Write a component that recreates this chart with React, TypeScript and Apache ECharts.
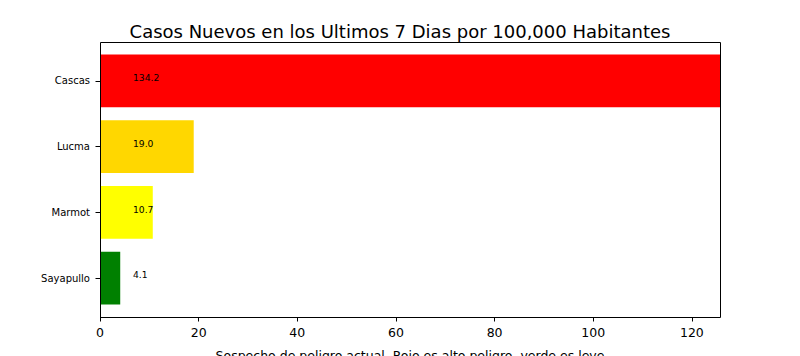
import React, { useEffect, useRef } from "react";
import * as echarts from "echarts";

const categories = ["Cascas", "Lucma", "Marmot", "Sayapullo"];
const values = [134.2, 19.0, 10.7, 4.1];
const barColors = ["#ff0000", "#ffd700", "#ffff00", "#008000"];
const xTicks = [0, 20, 40, 60, 80, 100, 120];
const xMax = 125.7;
const titleText = "Casos Nuevos en los Ultimos 7 Dias por 100,000 Habitantes";
const xName = "Sospecho de peligro actual. Rojo es alto peligro, verde es leve";

const FONT = "DejaVu Sans";

export default function App() {
  const ref = useRef<HTMLDivElement>(null);
  useEffect(() => {
    document.body.style.margin = "0";
    const chart = echarts.init(ref.current!, null, { renderer: "svg" });
    chart.setOption({
      animation: false,
      backgroundColor: "#ffffff",
      textStyle: { fontFamily: FONT },
      title: {
        text: titleText,
        left: "center",
        top: 17,
        textStyle: { fontFamily: FONT, fontSize: 18, fontWeight: "normal", color: "#000" },
      },
      grid: {
        left: 100,
        right: 80,
        top: 48,
        bottom: 45,
        containLabel: false,
        outerBoundsMode: "none",
      },
      xAxis: {
        type: "value",
        min: 0,
        max: xMax,
        interval: 20,
        offset: 6,
        splitLine: { show: false },
        axisLine: { show: false },
        axisTick: { show: true, customValues: xTicks, length: 4.5, lineStyle: { color: "#000" } },
        axisLabel: { customValues: xTicks, fontSize: 12.5, color: "#000", margin: 9, fontFamily: FONT },
        name: xName,
        nameLocation: "middle",
        nameGap: 32,
        nameTextStyle: { fontSize: 12.5, color: "#000", fontFamily: FONT },
      },
      yAxis: {
        type: "category",
        inverse: true,
        data: categories,
        axisLine: { show: false },
        axisTick: { show: true, alignWithLabel: true, length: 4.5, lineStyle: { color: "#000" } },
        axisLabel: { fontSize: 10, color: "#000", margin: 10, fontFamily: FONT },
      },
      series: [
        {
          type: "bar",
          barWidth: "80%",
          clip: true,
          data: values.map((v, i) => ({ value: v, itemStyle: { color: barColors[i] } })),
          label: {
            show: true,
            position: [33, 23],
            align: "left",
            verticalAlign: "middle",
            fontSize: 9.2,
            color: "#000",
            fontFamily: FONT,
            formatter: (p: any) => Number(p.value).toFixed(1),
          },
        },
      ],
      graphic: [
        {
          type: "rect",
          z: 100,
          shape: { x: 100.5, y: 42.5, width: 620, height: 275 },
          style: { fill: "none", stroke: "#000", lineWidth: 1 },
          silent: true,
        },
      ],
    });
    return () => chart.dispose();
  }, []);
  return (
    <div
      ref={ref}
      style={{ position: "absolute", left: 0, top: 0, width: 800, height: 356 }}
    />
  );
}
